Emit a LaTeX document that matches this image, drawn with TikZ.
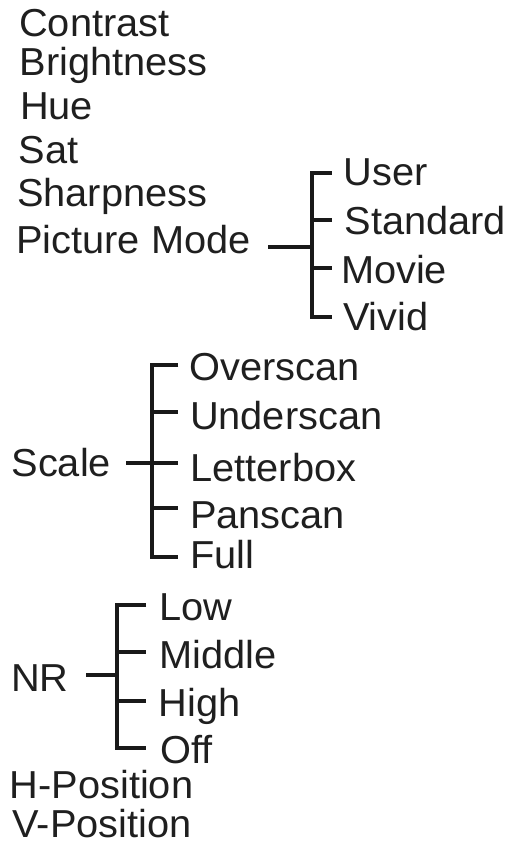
\documentclass[tikz,border=0pt]{standalone}
\usepackage{fontspec}
\setmainfont[FakeStretch=1.02]{Liberation Sans}
\begin{document}
\begin{tikzpicture}[x=1pt,y=-1pt,
  lbl/.style={anchor=base west,inner sep=0pt,outer sep=0pt,font=\fontsize{39}{40}\selectfont,text=black!88},
  br/.style={line width=4pt,line cap=butt,line join=miter,black!90}]
\useasboundingbox (0,0) rectangle (509,842);
% left column
\node[lbl] (contrast) at (19.2,36.7) {Contrast};
\node[lbl] (bright) at (19.5,76) {Brightness};
\node[lbl] (hue) at (20,120) {Hue};
\node[lbl] (sat) at (18.5,163.3) {Sat};
\node[lbl] (sharp) at (17,206.7) {Sharpness};
\node[lbl] (pm) at (16.2,253.3) {Picture Mode};
% picture mode options
\node[lbl] (user) at (343.5,186) {User};
\node[lbl] (std) at (344.5,234.3) {Standard};
\node[lbl] (movie) at (341,283.3) {Movie};
\node[lbl] (vivid) at (343,330) {Vivid};
% scale
\node[lbl] (scale) at (11.5,476) {Scale};
\node[lbl] (over) at (189.5,380) {Overscan};
\node[lbl] (under) at (190,429.3) {Underscan};
\node[lbl] (letter) at (190.3,481) {Letterbox};
\node[lbl] (pan) at (190,528.3) {Panscan};
\node[lbl] (full) at (190,568.3) {Full};
% NR
\node[lbl] (nr) at (11,691) {NR};
\node[lbl] (low) at (159.7,620) {Low};
\node[lbl] (mid) at (159.7,668.3) {Middle};
\node[lbl] (high) at (158.7,716.7) {High};
\node[lbl] (off) at (160.7,763.3) {Off};
\node[lbl] (hpos) at (9.7,798.5) {H-Position};
\node[lbl] (vpos) at (12.5,837) {V-Position};
% Picture Mode bracket
\coordinate (pmL) at (268,246.7);
\coordinate (pmJ) at (311.7,246.7);
\coordinate (pmv1) at (311.7,172.7);
\coordinate (pmv2) at (311.7,220);
\coordinate (pmv3) at (311.7,268);
\coordinate (pmv4) at (311.7,316.7);
\coordinate (pmt1) at (331.7,172.7);
\coordinate (pmt2) at (331.7,220);
\coordinate (pmt3) at (331.7,268);
\coordinate (pmt4) at (331.7,316.7);
\draw[br] (pmL) -- (pmJ);
\draw[br] (pmt1) -- (pmv1) -- (pmv4) -- (pmt4);
\draw[br] (pmv2) -- (pmt2);
\draw[br] (pmv3) -- (pmt3);
% Scale bracket
\coordinate (scL) at (126,463.3);
\coordinate (scv1) at (151.7,365);
\coordinate (scv2) at (151.7,411.7);
\coordinate (scv3) at (151.7,463.3);
\coordinate (scv4) at (151.7,508.3);
\coordinate (scv5) at (151.7,556.7);
\coordinate (sct1) at (178.3,365);
\coordinate (sct2) at (178.3,411.7);
\coordinate (sct3) at (178.3,463.3);
\coordinate (sct4) at (178.3,508.3);
\coordinate (sct5) at (178.3,556.7);
\draw[br] (scL) -- (sct3);
\draw[br] (sct1) -- (scv1) -- (scv5) -- (sct5);
\draw[br] (scv2) -- (sct2);
\draw[br] (scv4) -- (sct4);
% NR bracket
\coordinate (nrL) at (86,675);
\coordinate (nrJ) at (116.5,675);
\coordinate (nrv1) at (116.5,605);
\coordinate (nrv2) at (116.5,652.3);
\coordinate (nrv3) at (116.5,701);
\coordinate (nrv4) at (116.5,748.3);
\coordinate (nrt1) at (146,605);
\coordinate (nrt2) at (146,652.3);
\coordinate (nrt3) at (146,701);
\coordinate (nrt4) at (146,748.3);
\draw[br] (nrL) -- (nrJ);
\draw[br] (nrt1) -- (nrv1) -- (nrv4) -- (nrt4);
\draw[br] (nrv2) -- (nrt2);
\draw[br] (nrv3) -- (nrt3);
\end{tikzpicture}
\end{document}
